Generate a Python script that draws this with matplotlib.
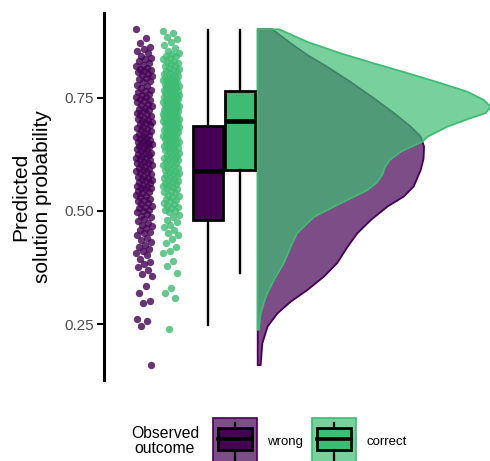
import numpy as np
import matplotlib
matplotlib.use("Agg")
import matplotlib.pyplot as plt
from matplotlib.patches import Rectangle, Polygon
from matplotlib.colors import to_rgba

plt.rcParams["font.family"] = ["Liberation Sans", "DejaVu Sans"]

groups = ["wrong", "correct"]
colors = ["#440154", "#3FBC73"]

# predicted probabilities
wrong_prob = [
    0.901, 0.882, 0.871, 0.862, 0.858, 0.853, 0.848, 0.843,
    0.838, 0.835, 0.831, 0.826, 0.822, 0.819, 0.816, 0.813, 0.811, 0.808, 0.806, 0.803, 0.801,
    0.798, 0.794, 0.791, 0.787, 0.784, 0.779, 0.776, 0.772, 0.768, 0.765, 0.762, 0.758, 0.755, 0.752, 0.751,
    0.748, 0.746, 0.743, 0.740, 0.737, 0.734, 0.731, 0.728, 0.726, 0.723, 0.720, 0.717, 0.714, 0.711, 0.709,
    0.706, 0.703, 0.701,
    0.699, 0.697, 0.694, 0.691, 0.689, 0.686, 0.684, 0.681, 0.679, 0.676, 0.673, 0.671, 0.668, 0.666, 0.663,
    0.661, 0.658, 0.656, 0.654, 0.652, 0.651,
    0.649, 0.647, 0.645, 0.643, 0.641, 0.638, 0.636, 0.634, 0.632, 0.629, 0.627, 0.625, 0.623, 0.621, 0.618,
    0.616, 0.614, 0.612, 0.609, 0.607, 0.605, 0.603, 0.601,
    0.598, 0.596, 0.593, 0.591, 0.588, 0.586, 0.583, 0.581, 0.578, 0.576, 0.573, 0.571, 0.568, 0.566, 0.563,
    0.561, 0.558, 0.556, 0.553, 0.551, 0.550,
    0.548, 0.545, 0.542, 0.539, 0.536, 0.533, 0.530, 0.527, 0.524, 0.521, 0.518, 0.515, 0.512, 0.509, 0.506,
    0.503, 0.501,
    0.498, 0.494, 0.490, 0.486, 0.482, 0.478, 0.474, 0.470, 0.466, 0.462, 0.458, 0.454, 0.451,
    0.447, 0.441, 0.436, 0.431, 0.426, 0.421, 0.416, 0.411, 0.407, 0.402,
    0.395, 0.388, 0.384, 0.377, 0.369, 0.361, 0.357,
    0.334, 0.318, 0.301, 0.296, 0.262, 0.258, 0.246, 0.160,
]
correct_prob = [
    0.898, 0.893, 0.884, 0.879, 0.872, 0.866, 0.859, 0.853,
    0.849, 0.846, 0.843, 0.841, 0.838, 0.835, 0.832, 0.829, 0.827, 0.824, 0.821, 0.819, 0.816, 0.814, 0.811,
    0.809, 0.806, 0.804, 0.802, 0.800,
    0.798, 0.797, 0.795, 0.793, 0.792, 0.790, 0.789, 0.787, 0.785, 0.784, 0.782, 0.781, 0.779, 0.778, 0.776,
    0.775, 0.773, 0.771, 0.770, 0.768, 0.767, 0.765, 0.764, 0.762, 0.761, 0.759, 0.758, 0.757, 0.755, 0.754,
    0.753, 0.752, 0.751, 0.750,
    0.749, 0.748, 0.747, 0.745, 0.744, 0.743, 0.741, 0.740, 0.739, 0.737, 0.736, 0.735, 0.733, 0.732, 0.731,
    0.729, 0.728, 0.727, 0.725, 0.724, 0.723, 0.721, 0.720, 0.719, 0.717, 0.716, 0.715, 0.713, 0.712, 0.711,
    0.709, 0.708, 0.707, 0.705, 0.704, 0.703, 0.702, 0.701, 0.700, 0.700,
    0.698, 0.697, 0.695, 0.694, 0.692, 0.691, 0.689, 0.688, 0.686, 0.685, 0.683, 0.682, 0.680, 0.679, 0.677,
    0.676, 0.674, 0.672, 0.671, 0.669, 0.668, 0.666, 0.664, 0.663, 0.661, 0.660, 0.658, 0.656, 0.655, 0.653,
    0.652, 0.650,
    0.648, 0.646, 0.644, 0.642, 0.640, 0.638, 0.636, 0.634, 0.632, 0.630, 0.628, 0.626, 0.624, 0.622, 0.620,
    0.618, 0.616, 0.614, 0.612, 0.610, 0.608, 0.606, 0.604, 0.602, 0.600,
    0.598, 0.596, 0.593, 0.591, 0.589, 0.587, 0.584, 0.582, 0.580, 0.577, 0.575, 0.573, 0.571, 0.568, 0.566,
    0.564, 0.561, 0.559, 0.557, 0.555, 0.553, 0.551,
    0.548, 0.545, 0.542, 0.539, 0.536, 0.533, 0.530, 0.527, 0.524, 0.521, 0.518, 0.515, 0.512, 0.509, 0.506,
    0.503, 0.501,
    0.497, 0.491, 0.486, 0.481, 0.475, 0.469, 0.464, 0.458, 0.452,
    0.446, 0.438, 0.429, 0.421, 0.412, 0.407,
    0.389, 0.378, 0.363,
    0.330, 0.320, 0.309, 0.240,
]

# boxplot statistics (whiskers, quartiles, median)
box_low = [0.249, 0.363]
box_q1 = [0.480, 0.590]
box_med = [0.588, 0.699]
box_q3 = [0.688, 0.765]
box_high = [0.899, 0.900]

# half-violin outlines, top to bottom: y value and density
wrong_dens_y = [0.901, 0.870, 0.844, 0.818, 0.785, 0.749, 0.716, 0.686, 0.664, 0.642, 0.615, 0.590,
                0.554, 0.532, 0.510, 0.480, 0.451, 0.421, 0.385, 0.355, 0.326, 0.300, 0.274, 0.245,
                0.208, 0.160]
wrong_dens = [0.25, 0.57, 0.86, 1.20, 1.60, 2.00, 2.35, 2.64, 2.81, 2.87, 2.86, 2.81,
              2.69, 2.52, 2.24, 1.95, 1.72, 1.55, 1.37, 1.14, 0.86, 0.57, 0.34, 0.17,
              0.08, 0.05]
correct_dens_y = [0.901, 0.873, 0.848, 0.826, 0.804, 0.782, 0.763, 0.745, 0.730, 0.716, 0.705, 0.686,
                  0.664, 0.653, 0.631, 0.613, 0.598, 0.580, 0.562, 0.546, 0.517, 0.487, 0.451, 0.421,
                  0.385, 0.348, 0.311, 0.274, 0.238]
correct_dens = [0.37, 0.86, 1.43, 2.00, 2.59, 3.16, 3.62, 3.90, 4.02, 3.93, 3.67, 3.27,
                2.93, 2.84, 2.47, 2.28, 2.20, 2.15, 2.05, 1.89, 1.43, 0.97, 0.68, 0.57,
                0.45, 0.28, 0.14, 0.05, 0.02]

yticks = [0.25, 0.50, 0.75]
ytick_labels = ["0.25", "0.50", "0.75"]

# layout (axis units, x runs 0..1 across the panel)
point_pos = [0.105, 0.175]
jitter_half = 0.0215
box_pos = [0.271, 0.354]
box_width = 0.0768
violin_base = 0.399
violin_scale = 0.150

W, H = 490, 461
fig = plt.figure(figsize=(W / 100, H / 100), dpi=100)
ax = fig.add_axes([103.5 / W, 1 - 380 / H, 386.5 / W, 367 / H])
ax.set_xlim(0, 1)
ax.set_ylim(0.127, 0.937)

# half violins, wrong first so correct sits on top
for dy, dd, col in [(wrong_dens_y, wrong_dens, colors[0]), (correct_dens_y, correct_dens, colors[1])]:
    dy = np.asarray(dy)
    dx = violin_base + np.asarray(dd) * violin_scale
    xs = np.concatenate([[violin_base], dx, [violin_base]])
    ys = np.concatenate([[dy[0]], dy, [dy[-1]]])
    ax.add_patch(Polygon(np.column_stack([xs, ys]), closed=True,
                         facecolor=to_rgba(col, 0.7), edgecolor=col, lw=1.3, zorder=2))

# jittered points
for vals, xc, col in [(wrong_prob, point_pos[0], colors[0]), (correct_prob, point_pos[1], colors[1])]:
    vals = np.asarray(vals)
    k = np.arange(len(vals))
    offs = ((k * 0.6180339887) % 1.0 - 0.5) * 2 * jitter_half
    ax.scatter(xc + offs, vals, s=28, color=col, alpha=0.8, linewidths=0, zorder=3)

# boxplots
stats = []
for i, g in enumerate(groups):
    stats.append(dict(med=box_med[i], q1=box_q1[i], q3=box_q3[i],
                      whislo=box_low[i], whishi=box_high[i], fliers=[], label=g))
bp = ax.bxp(stats, positions=box_pos, widths=box_width, patch_artist=True,
            showfliers=False, showcaps=False, manage_ticks=False,
            boxprops=dict(lw=2.0, edgecolor="black"),
            whiskerprops=dict(lw=1.7, color="black"),
            medianprops=dict(lw=3.4, color="black"), zorder=4)
for patch, col in zip(bp["boxes"], colors):
    patch.set_facecolor(col)

for s in ["top", "right", "bottom"]:
    ax.spines[s].set_visible(False)
ax.spines["left"].set_linewidth(2.2)
ax.set_xticks([])
ax.set_yticks(yticks)
ax.set_yticklabels(ytick_labels)
ax.tick_params(axis="y", length=5, width=1.5, pad=2, labelsize=11, labelcolor="#4D4D4D")

fig.text(31.5 / W, 1 - 197 / H, "Predicted\nsolution probability", rotation=90,
         ha="center", va="center", multialignment="center", fontsize=15, linespacing=1.15)

# legend drawn in pixel space
lg = fig.add_axes([0, 0, 1, 1])
lg.set_xlim(0, W)
lg.set_ylim(H, 0)
lg.axis("off")
lg.text(165, 441, "Observed\noutcome", ha="center", va="center", multialignment="center",
        fontsize=11.3, linespacing=1.05)
key_x = [213, 312]
for kx, col, g in zip(key_x, colors, groups):
    lg.add_patch(Rectangle((kx, 417.5), 44, 50, facecolor=to_rgba(col, 0.7), edgecolor=col, lw=1.2))
    cx = kx + 22
    lg.plot([cx, cx], [423, 428], color="black", lw=1.6)
    lg.plot([cx, cx], [450, 470], color="black", lw=1.6)
    lg.add_patch(Rectangle((kx + 5, 428.3), 34, 21.7, facecolor=col, edgecolor="black", lw=2.0))
    lg.plot([kx + 5, kx + 39], [439.3, 439.3], color="black", lw=2.6)
    lg.text(kx + 54, 442, g, ha="left", va="center", fontsize=9.5)

fig.savefig("out.png", dpi=100)
